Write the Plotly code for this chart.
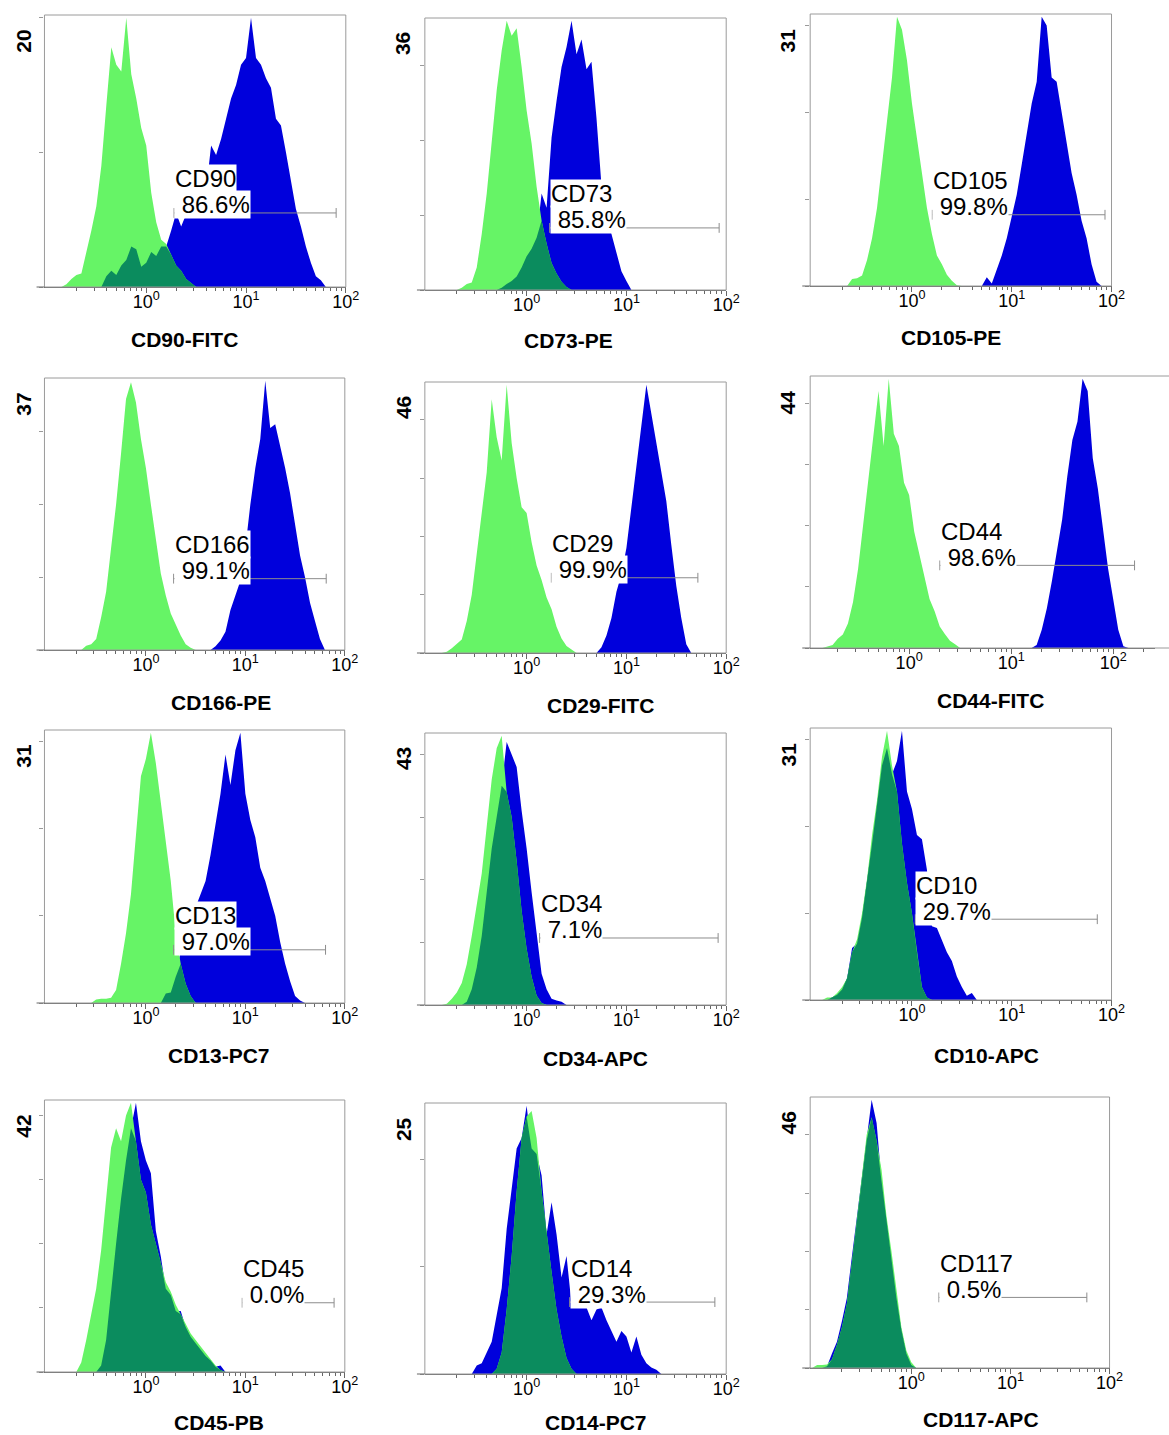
import numpy as np
import plotly.graph_objects as go

W, H = 1169, 1435
FONT = "Liberation Sans, Arial, sans-serif"
STEP = 0.05          # histogram bin width, in decades
G0 = -1.0            # first bin centre (log10)
NBIN = 72

# ---------------- data (counts per log bin) ----------------
cd90_iso_start = -0.80
cd90_iso = [0.2, 0.6, 0.9, 1.0, 2.5, 4.2, 6.0, 9.0, 13.5, 17.8, 16.5, 16.0, 20.0, 15.8, 14.0,
            11.8, 10.5, 7.0, 4.8, 3.5, 3.2, 2.4, 1.6, 1.2, 0.6, 0.3]
cd90_pos_start = -0.40
cd90_pos = [0.8, 1.2, 0.9, 1.6, 2.0, 3.0, 2.8, 1.5, 1.8, 2.6, 2.3, 3.0, 3.0, 4.2, 5.5, 4.5, 5.4,
            5.8, 7.0, 8.3, 7.2, 10.5, 9.8, 11.0, 12.5, 14.0, 15.0, 16.5, 17.0, 20.0, 17.0, 16.5,
            15.5, 14.8, 12.5, 12.0, 10.0, 7.8, 5.8, 4.5, 3.0, 1.8, 0.8, 0.5]

cd73_iso_start = -0.65
cd73_iso = [0.3, 0.8, 1.0, 3.0, 7.5, 12.9, 20.0, 26.7, 32.0, 36.0, 34.0, 35.0, 29.8, 24.0, 19.6,
            13.8, 9.3, 6.2, 3.6, 2.2, 1.1, 0.4]
cd73_pos_start = -0.25
cd73_pos = [0.3, 0.8, 1.2, 1.8, 3.0, 4.5, 5.5, 7.0, 12.9, 11.0, 20.4, 25.3, 29.8, 32.5, 36.0,
            31.5, 33.5, 29.5, 30.5, 23.0, 14.0, 10.0, 7.5, 5.0, 2.5, 1.2]

cd105_iso_start = -0.60
cd105_iso = [0.8, 0.9, 1.2, 3.0, 5.5, 9.0, 14.0, 18.5, 24.0, 31.0, 29.5, 26.0, 21.0, 17.0, 13.0,
             9.0, 6.0, 3.5, 2.5, 1.3, 0.6, 0.1]
cd105_pos_start = 0.75
cd105_pos = [1.0, 0.3, 2.0, 3.5, 5.5, 8.0, 10.5, 14.0, 17.5, 21.0, 23.5, 31.0, 30.0, 24.0, 23.5,
             20.0, 16.0, 13.0, 10.5, 7.5, 5.5, 2.5, 0.5]

cd166_iso_start = -0.60
cd166_iso = [0.6, 0.8, 1.5, 4.5, 8.0, 14.0, 20.0, 27.0, 34.5, 36.8, 34.0, 29.0, 25.0, 20.0, 15.0,
             10.5, 7.5, 5.0, 3.5, 2.0, 0.8, 0.3]
cd166_pos_start = 0.70
cd166_pos = [0.5, 1.3, 2.5, 5.5, 7.5, 9.5, 14.0, 20.0, 25.0, 29.0, 37.0, 30.5, 31.0, 28.0, 25.0,
             21.5, 17.5, 13.0, 10.0, 6.5, 4.0, 1.5]

cd29_iso_start = -0.80
cd29_iso = [0.2, 0.8, 1.5, 2.3, 5.5, 10.0, 17.0, 24.0, 31.0, 43.5, 37.0, 33.0, 46.0, 36.0, 30.0,
            25.0, 24.0, 19.0, 15.0, 12.5, 9.5, 7.5, 4.5, 2.5, 1.2, 0.6]
cd29_pos_start = 0.75
cd29_pos = [1.0, 3.0, 6.0, 10.5, 13.5, 18.0, 25.0, 32.0, 38.0, 46.0, 41.0, 36.0, 31.5, 26.0, 18.5,
            11.5, 6.0, 1.5]

cd44_iso_start = -0.80
cd44_iso = [0.2, 0.5, 1.5, 2.2, 4.0, 7.5, 13.0, 20.0, 27.0, 35.0, 42.0, 33.0, 44.0, 35.0, 33.0,
            27.0, 25.0, 19.0, 15.5, 11.5, 8.0, 6.0, 3.5, 2.3, 1.2, 0.6]
cd44_pos_start = 1.25
cd44_pos = [0.5, 3.0, 6.5, 11.0, 16.0, 21.0, 28.0, 34.0, 37.0, 44.0, 42.0, 31.0, 26.0, 19.0, 13.0,
            8.0, 3.0, 0.3]

cd13_iso_start = -0.50
cd13_iso = [0.4, 0.5, 0.5, 0.6, 1.5, 4.5, 8.0, 12.5, 19.0, 26.0, 28.0, 31.0, 27.5, 23.0, 18.0,
            14.0, 8.0, 4.5, 2.2, 0.8]
cd13_pos_start = 0.20
cd13_pos = [1.1, 1.2, 3.0, 6.0, 7.5, 9.5, 11.0, 12.5, 14.0, 17.0, 20.5, 24.0, 28.5, 25.0, 29.0,
            31.0, 24.0, 21.0, 19.0, 15.5, 14.0, 12.0, 10.0, 7.0, 4.5, 2.5, 0.8, 0.3]

cd34_iso_start = -0.80
cd34_iso = [0.2, 1.0, 2.0, 3.5, 6.5, 11.0, 16.0, 21.0, 28.5, 36.0, 41.0, 43.0, 34.0, 30.0, 23.0,
            15.0, 9.0, 4.5, 1.5, 0.3]
cd34_pos_start = -0.60
cd34_pos = [0.5, 2.5, 6.0, 11.0, 18.0, 25.0, 30.0, 35.0, 42.0, 40.0, 38.0, 31.0, 25.0, 18.0, 11.0,
            5.0, 2.5, 1.0, 0.7, 0.5]

cd10_iso_start = -0.85
cd10_iso = [0.3, 0.3, 0.8, 1.5, 2.5, 5.5, 7.0, 10.0, 14.0, 19.0, 23.0, 28.0, 31.0, 27.0, 24.0,
            18.0, 13.5, 10.0, 5.5, 1.5, 0.3]
cd10_pos_start = -0.80
cd10_pos = [0.3, 0.6, 1.2, 2.5, 6.0, 6.5, 9.5, 13.5, 18.0, 22.5, 27.0, 29.0, 26.0, 27.5, 31.0,
            24.0, 22.0, 19.0, 18.5, 15.0, 8.5, 8.3, 7.0, 5.5, 4.5, 2.7, 1.5, 0.5, 0.8]

cd45_iso_start = -0.65
cd45_iso = [1.5, 5.0, 9.0, 13.0, 19.0, 27.0, 35.0, 38.0, 36.0, 40.0, 42.0, 36.0, 30.0, 28.0, 23.0,
            20.0, 17.0, 14.0, 12.5, 10.5, 9.0, 7.5, 6.0, 5.0, 4.0, 3.0, 2.0, 1.0, 0.3]
cd45_pos_start = -0.45
cd45_pos = [1.0, 5.0, 13.0, 20.0, 27.0, 33.0, 38.0, 42.0, 36.0, 33.0, 31.0, 22.0, 18.0, 13.0, 12.0,
            9.5, 9.5, 7.0, 5.5, 4.5, 3.5, 2.5, 1.8, 0.8, 1.0]

cd14_iso_start = -0.30
cd14_iso = [0.5, 2.0, 6.0, 11.0, 17.0, 22.0, 24.0, 24.5, 22.0, 17.0, 13.0, 9.5, 6.0, 3.5, 1.5, 0.5]
cd14_pos_start = -0.50
cd14_pos = [0.8, 1.0, 2.0, 3.0, 5.5, 8.0, 13.5, 17.0, 21.0, 22.0, 25.0, 21.0, 20.5, 18.5, 13.0,
            16.0, 13.0, 9.0, 11.0, 6.5, 6.2, 6.2, 6.2, 5.0, 6.0, 6.2, 5.0, 4.0, 3.0, 4.0, 3.5, 2.0,
            3.5, 1.8, 1.0, 0.6, 0.4]

cd117_iso_start = -0.95
cd117_iso = [0.5, 0.5, 0.6, 1.5, 4.0, 7.0, 11.0, 18.0, 25.0, 32.0, 40.0, 43.0, 39.0, 34.0, 26.0,
             20.0, 13.0, 7.0, 3.0, 1.0]
cd117_pos_start = -0.85
cd117_pos = [0.3, 2.5, 4.5, 8.0, 12.0, 19.0, 26.0, 33.0, 39.0, 46.0, 42.0, 32.0, 25.0, 19.0, 12.0,
             6.5, 2.5, 0.5]

markers = ["CD90", "CD73", "CD105", "CD166", "CD29", "CD44",
           "CD13", "CD34", "CD10", "CD45", "CD14", "CD117"]
channels = ["CD90-FITC", "CD73-PE", "CD105-PE", "CD166-PE", "CD29-FITC", "CD44-FITC",
            "CD13-PC7", "CD34-APC", "CD10-APC", "CD45-PB", "CD14-PC7", "CD117-APC"]
percents = ["86.6%", "85.8%", "99.8%", "99.1%", "99.9%", "98.6%",
            "97.0%", "7.1%", "29.7%", "0.0%", "29.3%", "0.5%"]
count_max = [20, 36, 31, 37, 46, 44, 31, 43, 31, 42, 25, 46]
gate_lo = [1.9, 1.7, 1.6, 1.9, 1.77, 2.0, 1.9, 1.35, 1.08, 9.3, 2.7, 1.9]
gate_hi = [80, 85, 86, 65, 52, 162, 64, 83, 72, 78, 77, 59]
gate_level = [5.5, 8.3, 8.2, 9.8, 12.9, 13.5, 6.1, 10.7, 9.3, 10.8, 6.7, 12.1]

iso_series = [(cd90_iso_start, cd90_iso), (cd73_iso_start, cd73_iso), (cd105_iso_start, cd105_iso),
              (cd166_iso_start, cd166_iso), (cd29_iso_start, cd29_iso), (cd44_iso_start, cd44_iso),
              (cd13_iso_start, cd13_iso), (cd34_iso_start, cd34_iso), (cd10_iso_start, cd10_iso),
              (cd45_iso_start, cd45_iso), (cd14_iso_start, cd14_iso), (cd117_iso_start, cd117_iso)]
pos_series = [(cd90_pos_start, cd90_pos), (cd73_pos_start, cd73_pos), (cd105_pos_start, cd105_pos),
              (cd166_pos_start, cd166_pos), (cd29_pos_start, cd29_pos), (cd44_pos_start, cd44_pos),
              (cd13_pos_start, cd13_pos), (cd34_pos_start, cd34_pos), (cd10_pos_start, cd10_pos),
              (cd45_pos_start, cd45_pos), (cd14_pos_start, cd14_pos), (cd117_pos_start, cd117_pos)]

# ---------------- layout (page-pixel frames: left, right, top, bottom) ----------------
frames = [(45, 350, 15, 287), (430, 735, 18, 290), (820, 1125, 14, 286),
          (45, 349, 378, 650), (430, 735, 382, 653), (820, 1169, 376, 648),
          (45, 349, 730, 1003), (430, 735, 733, 1005), (820, 1125, 728, 1000),
          (45, 349, 1100, 1372), (430, 735, 1103, 1374), (820, 1123, 1097, 1368)]
xranges = [[-1.02, 2.0]] * 5 + [[-0.97, 2.41]] + [[-1.02, 2.0]] * 6
open_right = [False] * 5 + [True] + [False] * 6
title_pos = [(187, 339), (575, 341), (963, 337),
             (224, 703), (608, 705), (1002, 700),
             (222, 1055), (603, 1058), (998, 1055),
             (222, 1422), (603, 1422), (993, 1419)]

C_ISO = "#66f466"
C_POS = "#0000dc"
C_OVL = "#0b8c5e"
C_AX = "#666666"
C_FRAME = "#9a9a9a"

grid = G0 + STEP * np.arange(NBIN)
minor_vals = [m * 10.0 ** e for e in (-1, 0, 1, 2) for m in range(2, 10)]


def pxx(px):
    return px / W


def pxy(py):
    return 1 - py / H


def on_grid(start, vals):
    arr = np.zeros(NBIN)
    k = int(round((start - G0) / STEP))
    arr[k:k + len(vals)] = vals
    return arr


def hist_trace(vals, color, xa, ya):
    nz = np.nonzero(vals)[0]
    if len(nz) == 0:
        return None
    lo, hi = max(nz[0] - 1, 0), min(nz[-1] + 2, NBIN)
    return go.Scatter(x=10 ** grid[lo:hi], y=vals[lo:hi], mode="lines", line_shape="linear",
                      line=dict(width=0, color=color), fill="tozeroy", fillcolor=color,
                      hoverinfo="skip", xaxis=xa, yaxis=ya, showlegend=False)


fig = go.Figure()
layout = dict(width=W, height=H, margin=dict(l=0, r=0, t=0, b=0),
              paper_bgcolor="white", plot_bgcolor="white", showlegend=False)
annotations, shapes = [], []

for i in range(12):
    n = i + 1
    xname = "x" if n == 1 else f"x{n}"
    yname = "y" if n == 1 else f"y{n}"
    xkey = "xaxis" if n == 1 else f"xaxis{n}"
    ykey = "yaxis" if n == 1 else f"yaxis{n}"
    l, r, t, b = frames[i]
    layout[xkey] = dict(domain=[pxx(l), min(pxx(r), 1.0)], anchor=yname, type="log",
                        range=xranges[i], tickvals=[1, 10, 100],
                        ticktext=["10<sup>0</sup>", "10<sup>1</sup>", "10<sup>2</sup>"],
                        ticks="outside", ticklen=5, tickwidth=1, tickcolor=C_AX,
                        ticklabelstandoff=-7,
                        showline=True, linecolor=C_AX, linewidth=1, showgrid=False,
                        zeroline=False, tickfont=dict(size=18, family=FONT, color="black"),
                        minor=dict(tickvals=minor_vals, ticks="outside", ticklen=3,
                                   tickwidth=1, tickcolor=C_AX, showgrid=False))
    layout[ykey] = dict(domain=[pxy(b), pxy(t)], anchor=xname,
                        range=[0, count_max[i] * 1.01], tick0=0, dtick=10,
                        ticks="outside", ticklen=4, tickwidth=1, tickcolor=C_FRAME,
                        showticklabels=False, showgrid=False, zeroline=False, showline=False)

    iso = on_grid(*iso_series[i])
    pos = on_grid(*pos_series[i])
    ovl = np.minimum(iso, pos)
    for vals, col in ((pos, C_POS), (iso, C_ISO), (ovl, C_OVL)):
        tr = hist_trace(vals, col, xname, yname)
        if tr is not None:
            fig.add_trace(tr)

    # gate marker
    fig.add_trace(go.Scatter(x=[gate_lo[i], gate_hi[i]], y=[gate_level[i], gate_level[i]],
                             mode="lines+markers", line=dict(color="#8c8c8c", width=1),
                             marker=dict(symbol="line-ns", size=7,
                                         line=dict(width=1, color="#8c8c8c")),
                             hoverinfo="skip", xaxis=xname, yaxis=yname, showlegend=False))

    # frame and axis extension
    x1 = 1.05 if open_right[i] else 1
    shapes.append(dict(type="rect", xref=f"{xname} domain", yref=f"{yname} domain",
                       x0=0, x1=x1, y0=0, y1=1, line=dict(color=C_FRAME, width=1), layer="above"))
    shapes.append(dict(type="line", xref=f"{xname} domain", yref=f"{yname} domain",
                       x0=-8 / (r - l), x1=0, y0=0, y1=0, line=dict(color=C_AX, width=1)))

    # count max label
    annotations.append(dict(text=str(count_max[i]), xref="paper", yref="paper",
                            x=pxx(l - 22), y=pxy(t + 26), textangle=-90,
                            showarrow=False, xanchor="center", yanchor="middle",
                            font=dict(size=21, family=FONT, color="black", weight="bold")))
    # marker / percent labels
    gx = np.log10(gate_lo[i])
    annotations.append(dict(text=markers[i], xref=xname, yref=yname, x=gx, y=gate_level[i],
                            yshift=34, xanchor="left", yanchor="middle", showarrow=False,
                            bgcolor="white", borderpad=0,
                            font=dict(size=24, family=FONT, color="black")))
    annotations.append(dict(text="\u00a0" + percents[i], xref=xname, yref=yname, x=gx,
                            y=gate_level[i], yshift=8, xanchor="left", yanchor="middle",
                            showarrow=False, bgcolor="white", borderpad=0,
                            font=dict(size=24, family=FONT, color="black")))
    # channel title
    tx, ty = title_pos[i]
    annotations.append(dict(text=channels[i], xref="paper", yref="paper", x=pxx(tx), y=pxy(ty),
                            xanchor="center", yanchor="middle", showarrow=False,
                            font=dict(size=21, family=FONT, color="black", weight="bold")))

layout["annotations"] = annotations
layout["shapes"] = shapes
fig.update_layout(**layout)
# remove the default 8px body margin so the figure sits at the page origin
fig.write_html("out.html", config={"displayModeBar": False},
               post_script="document.body.style.margin='0';document.body.style.padding='0';"
                           "document.documentElement.style.overflow='hidden';")
